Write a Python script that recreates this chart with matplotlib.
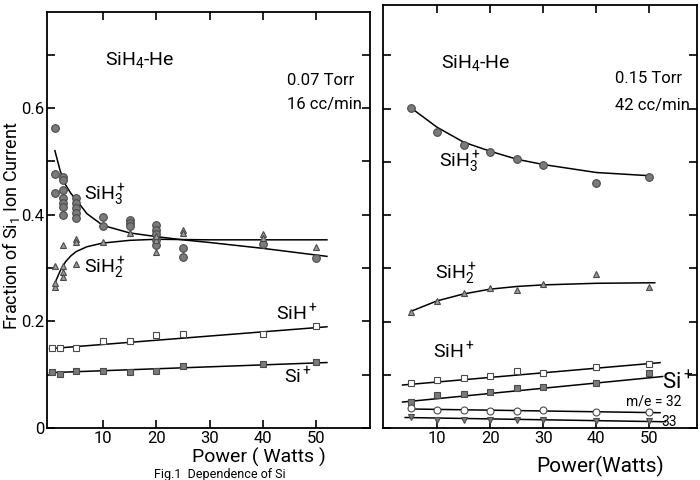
import matplotlib
matplotlib.use("Agg")
import matplotlib.pyplot as plt

# ---- left panel: 0.07 Torr, 16 cc/min ----
l_sih3_x = [1, 1, 1, 2.5, 2.5, 2.5, 2.5, 2.5, 2.5, 2.5, 5, 5, 5, 5, 5, 10, 10, 15, 15, 15,
            20, 20, 20, 20, 20, 25, 25, 40, 50]
l_sih3_y = [0.563, 0.477, 0.441, 0.471, 0.465, 0.447, 0.432, 0.422, 0.415, 0.400, 0.432, 0.422,
            0.413, 0.404, 0.394, 0.396, 0.378, 0.391, 0.385, 0.378, 0.381, 0.372, 0.363, 0.353,
            0.344, 0.338, 0.321, 0.346, 0.318]
l_sih3_fit_x = [1, 2, 3, 4, 5, 7, 10, 15, 20, 25, 30, 40, 52]
l_sih3_fit_y = [0.52, 0.482, 0.456, 0.44, 0.428, 0.402, 0.38, 0.366, 0.359, 0.353, 0.348, 0.337, 0.322]

l_sih2_x = [1, 1, 1, 2.5, 2.5, 2.5, 2.5, 5, 5, 5, 10, 15, 20, 20, 20, 25, 25, 40, 40, 50]
l_sih2_y = [0.264, 0.273, 0.303, 0.344, 0.303, 0.293, 0.284, 0.355, 0.348, 0.307, 0.348, 0.366,
            0.331, 0.352, 0.360, 0.372, 0.366, 0.363, 0.357, 0.340]
l_sih2_fit_x = [1, 2, 3, 4, 5, 7, 10, 15, 20, 30, 52]
l_sih2_fit_y = [0.272, 0.295, 0.312, 0.323, 0.331, 0.34, 0.347, 0.352, 0.354, 0.353, 0.353]

l_sih_x = [0.5, 2, 5, 10, 15, 20, 25, 40, 50]
l_sih_y = [0.151, 0.151, 0.150, 0.163, 0.163, 0.174, 0.177, 0.176, 0.191]
l_sih_fit_x = [0, 52]
l_sih_fit_y = [0.149, 0.190]

l_si_x = [0.5, 2, 5, 10, 15, 20, 25, 40, 50]
l_si_y = [0.105, 0.101, 0.108, 0.108, 0.106, 0.107, 0.117, 0.121, 0.124]
l_si_fit_x = [0, 52]
l_si_fit_y = [0.104, 0.123]

# ---- right panel: 0.15 Torr, 42 cc/min ----
r_x = [5, 10, 15, 20, 25, 30, 40, 50]
r_sih3_y = [0.602, 0.557, 0.531, 0.518, 0.505, 0.495, 0.460, 0.471]
r_sih3_fit_x = [5, 10, 15, 20, 25, 30, 40, 50]
r_sih3_fit_y = [0.602, 0.565, 0.537, 0.520, 0.505, 0.495, 0.480, 0.474]

r_sih2_y = [0.219, 0.238, 0.253, 0.264, 0.260, 0.270, 0.290, 0.265]
r_sih2_fit_x = [5, 10, 15, 20, 25, 30, 40, 51]
r_sih2_fit_y = [0.219, 0.239, 0.252, 0.261, 0.266, 0.269, 0.272, 0.273]

r_sih_y = [0.084, 0.090, 0.095, 0.097, 0.107, 0.104, 0.114, 0.121]
r_sih_fit_x = [3.5, 52]
r_sih_fit_y = [0.081, 0.123]

r_si_y = [0.050, 0.062, 0.065, 0.067, 0.075, 0.077, 0.084, 0.103]
r_si_fit_x = [3.5, 52.5]
r_si_fit_y = [0.049, 0.097]

r_m32_y = [0.037, 0.034, 0.035, 0.032, 0.032, 0.034, 0.031, 0.030]
r_m32_fit_x = [5, 52]
r_m32_fit_y = [0.036, 0.029]

r_m33_y = [0.021, 0.015, 0.015, 0.015, 0.015, 0.015, 0.013, 0.013]
r_m33_fit_x = [4, 53]
r_m33_fit_y = [0.020, 0.012]

xticks = [10, 20, 30, 40, 50]
yticks = [0, 0.1, 0.2, 0.3, 0.4, 0.5, 0.6, 0.7]
ylabels = ["0", "", "0.2", "", "0.4", "", "0.6", ""]

plt.rcParams["font.family"] = ["Roboto", "DejaVu Sans"]
plt.rcParams["mathtext.fontset"] = "custom"
plt.rcParams["mathtext.rm"] = "Roboto"
plt.rcParams["mathtext.it"] = "Roboto"

GREY = "#7a7a7a"
EDGE = "#4a4a4a"

fig = plt.figure(figsize=(7, 4.8), dpi=100)
axl = fig.add_axes([0.067, 0.108, 0.461, 0.867])
axr = fig.add_axes([0.547, 0.108, 0.449, 0.881])


def style(ax):
    ax.tick_params(direction="in", top=True, right=True, length=6, width=1.2,
                   labelsize=12, pad=2)
    for s in ax.spines.values():
        s.set_linewidth(1.3)
    ax.set_xticks(xticks)
    ax.set_yticks(yticks)


def pts(ax, x, y, m, face, ms=5):
    ax.plot(x, y, m, ls="none", ms=ms, mfc=face, mec=EDGE, mew=0.8)


def fit(ax, x, y):
    ax.plot(x, y, "-", color="black", lw=1.1)


# left
style(axl)
axl.set_xlim(-0.5, 60)
axl.set_ylim(0, 0.78)
axl.set_yticklabels(ylabels)
fit(axl, l_sih3_fit_x, l_sih3_fit_y)
fit(axl, l_sih2_fit_x, l_sih2_fit_y)
fit(axl, l_sih_fit_x, l_sih_fit_y)
fit(axl, l_si_fit_x, l_si_fit_y)
pts(axl, l_sih3_x, l_sih3_y, "o", GREY, 5.5)
pts(axl, l_sih2_x, l_sih2_y, "^", "#9a9a9a", 4)
pts(axl, l_sih_x, l_sih_y, "s", "white", 4.5)
pts(axl, l_si_x, l_si_y, "s", GREY, 4.5)
axl.text(10.3, 0.69, "SiH$_4$-He", fontsize=14, va="center")
axl.text(44.5, 0.652, "0.07 Torr", fontsize=12, va="center")
axl.text(44.5, 0.606, "16 cc/min", fontsize=12, va="center")
axl.text(6.5, 0.437, "SiH$_3^+$", fontsize=14, va="center")
axl.text(6.5, 0.300, "SiH$_2^+$", fontsize=14, va="center")
axl.text(42.5, 0.215, "SiH$^+$", fontsize=14, va="center")
axl.text(44, 0.097, "Si$^+$", fontsize=14, va="center")
fig.text(0.016, 0.53, "Fraction of Si$_1$ Ion Current", fontsize=13, rotation=90,
         ha="center", va="center")
axl.text(39.3, -0.054, "Power ( Watts )", fontsize=14, ha="center", va="center")

# right
style(axr)
axr.set_xlim(-0.2, 59)
axr.set_ylim(0, 0.794)
axr.set_yticklabels([])
fit(axr, r_sih3_fit_x, r_sih3_fit_y)
fit(axr, r_sih2_fit_x, r_sih2_fit_y)
fit(axr, r_sih_fit_x, r_sih_fit_y)
fit(axr, r_si_fit_x, r_si_fit_y)
fit(axr, r_m32_fit_x, r_m32_fit_y)
fit(axr, r_m33_fit_x, r_m33_fit_y)
pts(axr, r_x, r_sih3_y, "o", GREY, 5.5)
pts(axr, r_x, r_sih2_y, "^", "#9a9a9a", 4)
pts(axr, r_x, r_sih_y, "s", "white", 4.5)
pts(axr, r_x, r_si_y, "s", GREY, 4.5)
pts(axr, r_x, r_m32_y, "o", "white", 5)
pts(axr, r_x, r_m33_y, "v", GREY, 4)
axr.text(10.8, 0.685, "SiH$_4$-He", fontsize=14, va="center")
axr.text(43.5, 0.657, "0.15 Torr", fontsize=12, va="center")
axr.text(43.5, 0.606, "42 cc/min", fontsize=12, va="center")
axr.text(10.3, 0.50, "SiH$_3^+$", fontsize=14, va="center")
axr.text(9.6, 0.290, "SiH$_2^+$", fontsize=14, va="center")
axr.text(9.2, 0.143, "SiH$^+$", fontsize=14, va="center")
axr.text(52.3, 0.085, "Si$^+$", fontsize=16, va="center")
axr.text(45.5, 0.05, "m/e = 32", fontsize=10, va="center")
axr.text(52.3, 0.012, "33", fontsize=10, va="center")
axr.text(40.8, -0.072, "Power(Watts)", fontsize=15, ha="center", va="center")

fig.text(0.22, 0.011, "Fig.1  Dependence of Si", fontsize=9, va="center")

fig.savefig("out.png", dpi=100)
